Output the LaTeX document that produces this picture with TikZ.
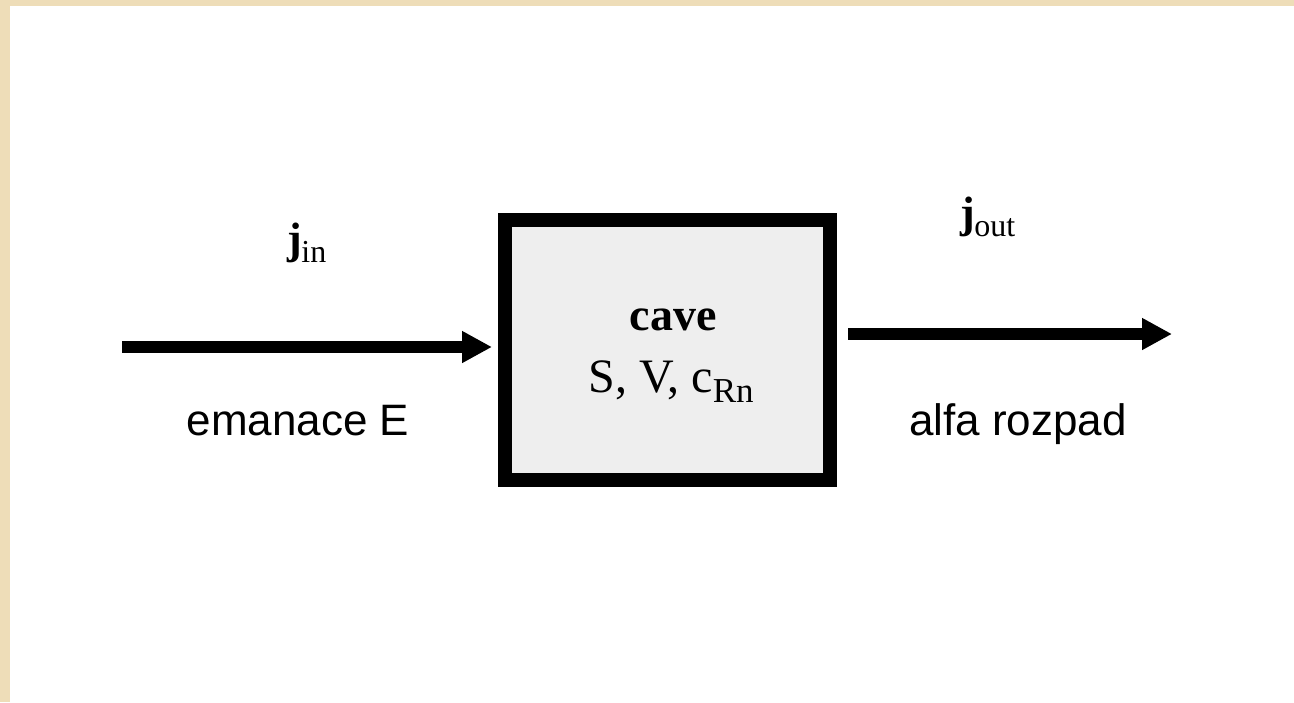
\documentclass[tikz,border=0pt]{standalone}
\usepackage{fontspec}
\setmainfont{Liberation Serif}
\setsansfont{Liberation Sans}
\usetikzlibrary{arrows.meta}
\definecolor{parchment}{RGB}{238,221,184}
\definecolor{cavefill}{RGB}{238,238,238}
\newcommand\fluxsym[2]{{\fontsize{44}{44}\selectfont\bfseries j}\kern#1{\fontsize{32}{32}\selectfont\raisebox{-9pt}{#2}}}

\begin{document}
\begin{tikzpicture}[x=1pt,y=-1pt,
  flow/.style={line width=12pt,-{Triangle[length=30pt,width=30pt]}},
  sidetext/.style={font=\sffamily\fontsize{44}{44}\selectfont,anchor=base,inner sep=0pt},
  boxtext/.style={anchor=base,inner sep=0pt}]
% Drawing paper and frame
\fill[parchment] (0,0) rectangle (1294,702);
\fill[white] (10,6) rectangle (1294,702);
% Drawing the cave box
\node[draw,line width=14pt,fill=cavefill,inner sep=0pt,
  minimum width=325pt,minimum height=260pt] (cave) at (667.5,350) {};
\node[boxtext,font=\bfseries\fontsize{46}{46}\selectfont] (caveName) at (673,330) {cave};
\node[boxtext,font=\fontsize{48}{48}\selectfont] (caveVars) at (671,392)
  {S, V, c{\fontsize{35}{35}\selectfont\raisebox{-10pt}{Rn}}};
% Drawing flows in and out
\coordinate (inStart) at (122,347);
\coordinate (outEnd) at (1172,334);
\draw[flow,shorten >=6pt] (inStart) -- (inStart -| cave.west);
\draw[flow,shorten <=11pt] (outEnd -| cave.east) -- (outEnd);
% Done with flows; drawing labels
\node[boxtext] (jIn) at (307,253) {\fluxsym{-1pt}{in}};
\node[boxtext] (jOut) at (988,227) {\fluxsym{-1pt}{out}};
\node[sidetext] (emanace) at (298,435) {emanace E};
\node[sidetext] (decay) at (1018,435) {alfa rozpad};
% Done with labels
\end{tikzpicture}
\end{document}
